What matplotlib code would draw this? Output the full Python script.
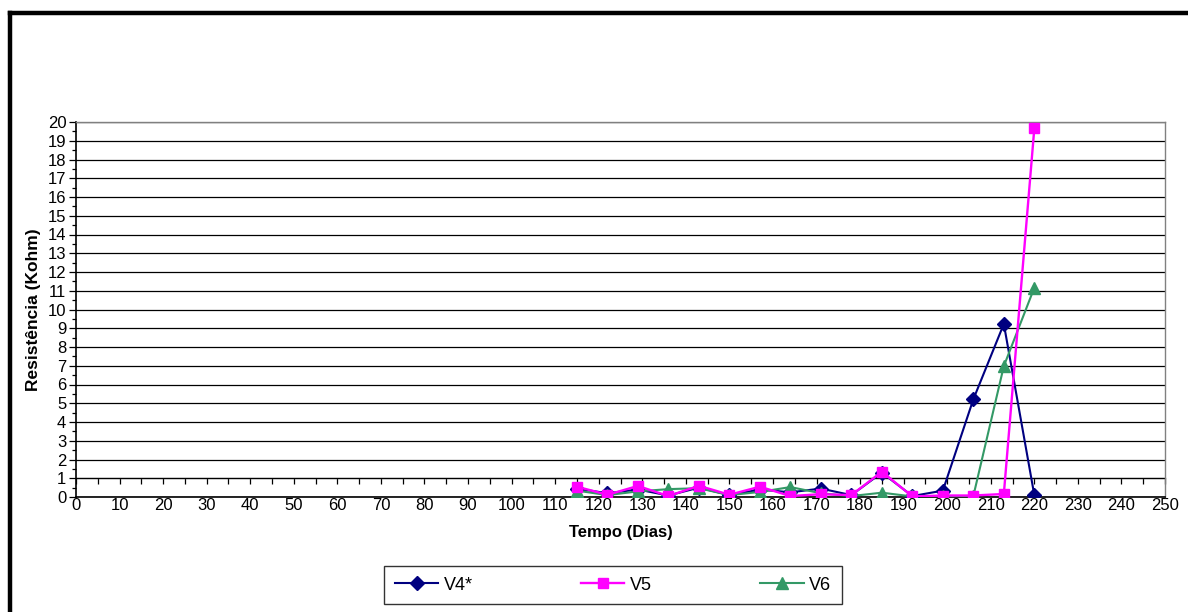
import matplotlib
matplotlib.use("Agg")
import matplotlib.pyplot as plt
from matplotlib.lines import Line2D
from matplotlib.ticker import MultipleLocator

plt.rcParams['font.family'] = ['Liberation Sans', 'DejaVu Sans']

days = [115, 122, 129, 136, 143, 150, 157, 164, 171, 178, 185, 192, 199, 206, 213, 220]
v4 = [0.45, 0.2, 0.4, 0.08, 0.5, 0.1, 0.4, 0.25, 0.45, 0.1, 1.3, 0.05, 0.34, 5.21, 9.23, 0.1]
v5 = [0.55, 0.12, 0.59, 0.05, 0.6, 0.12, 0.55, 0.05, 0.15, 0.1, 1.35, 0.03, 0.08, 0.08, 0.16, 19.66]
v6 = [0.34, 0.1, 0.3, 0.42, 0.47, 0.1, 0.27, 0.53, 0.2, 0.05, 0.23, 0.03, 0.05, 0.05, 6.98, 11.16]

series_names = ["V4*", "V5", "V6"]

W, H = 1188, 612
fig = plt.figure(figsize=(W / 100, H / 100), dpi=100)

# outer frame (left and top edges visible)
fig.add_artist(Line2D([10 / W, 10 / W], [0, 1 - 13 / H], transform=fig.transFigure,
                      color='black', lw=3.2, solid_capstyle='projecting'))
fig.add_artist(Line2D([10 / W, 1], [1 - 13 / H, 1 - 13 / H], transform=fig.transFigure,
                      color='black', lw=3.2, solid_capstyle='projecting'))

left, right, top, bottom = 76, 1165, 122, 497
ax = fig.add_axes([left / W, 1 - bottom / H, (right - left) / W, (bottom - top) / H])

ax.set_xlim(0, 250)
ax.set_ylim(0, 20)
ax.yaxis.set_major_locator(MultipleLocator(1))
ax.yaxis.set_minor_locator(MultipleLocator(0.5))
ax.xaxis.set_major_locator(MultipleLocator(10))
ax.grid(axis='y', which='major', color='black', lw=0.9)
ax.set_axisbelow(True)

for s in ['top', 'right']:
    ax.spines[s].set_color('#808080')
    ax.spines[s].set_linewidth(1.0)
for s in ['left', 'bottom']:
    ax.spines[s].set_color('black')
    ax.spines[s].set_linewidth(1.2)

ax.tick_params(axis='y', which='major', direction='out', length=5, width=0.9,
               labelsize=12, pad=2)
ax.tick_params(axis='y', which='minor', direction='out', length=3, width=0.9)
ax.tick_params(axis='x', which='major', length=0, labelsize=12, pad=1)

# category axis crossing at y = 1
sec = ax.secondary_xaxis(0.05)
sec.xaxis.set_major_locator(MultipleLocator(5))
sec.tick_params(axis='x', direction='out', length=4, width=0.9, labelbottom=False,
                labeltop=False, color='black')
sec.spines['bottom'].set_color('#808080')
sec.spines['bottom'].set_linewidth(1.0)

ax.plot(days, v4, color='#000080', marker='D', markersize=7, lw=1.5, label=series_names[0], zorder=3)
ax.plot(days, v5, color='#FF00FF', marker='s', markersize=7.5, lw=1.7, label=series_names[1], zorder=4)
ax.plot(days, v6, color='#339966', marker='^', markersize=8.5, lw=1.5, label=series_names[2], zorder=3)

ax.set_xlabel("Tempo (Dias)", fontsize=12, fontweight='bold', labelpad=8)
ax.set_ylabel("Resistência (Kohm)", fontsize=12.5, fontweight='bold', labelpad=5)

leg = fig.legend(loc='center', bbox_to_anchor=(613 / W, 1 - 585 / H), ncol=3,
                 fontsize=13, frameon=True, fancybox=False, edgecolor='black',
                 handlelength=2.4, columnspacing=6.0, borderpad=0.6, handletextpad=0.3,
                 borderaxespad=0)
leg.get_frame().set_linewidth(1.0)

fig.savefig("out.png", dpi=100)
